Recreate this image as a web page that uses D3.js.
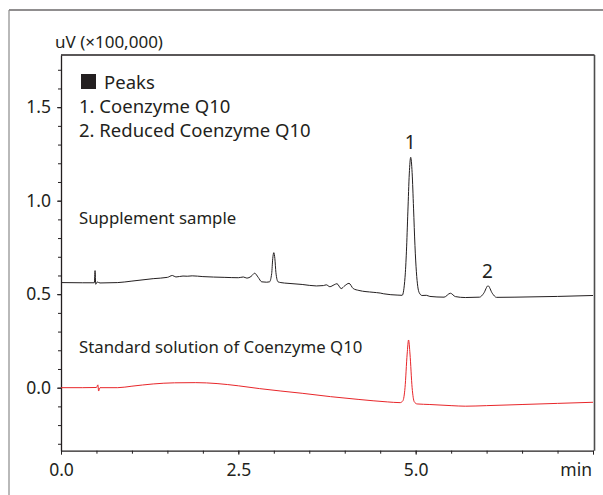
<!DOCTYPE html>
<html>
<head>
<meta charset="utf-8">
<script src="https://cdn.jsdelivr.net/npm/d3@7"></script>
<style>
  body { margin: 0; background: #fff; }
  svg text { font-family: "Noto Sans", "Open Sans", sans-serif; fill: #231f20; }
</style>
</head>
<body>
<svg id="chart" width="603" height="495"></svg>
<script>
  // 样品色谱 (时间 min, 信号 uV x100,000)
  var sampleTime = [0.00, 0.30, 0.47, 0.48, 0.49, 0.51, 0.55, 0.80, 1.00, 1.30, 1.50, 1.57, 1.62, 1.72, 1.78, 1.85,
                    2.00, 2.30, 2.50, 2.57, 2.62, 2.68, 2.73, 2.78, 2.83, 2.90, 2.94, 2.97, 2.985, 3.00, 3.015, 3.03,
                    3.06, 3.10, 3.20, 3.40, 3.60, 3.70, 3.74, 3.79, 3.85, 3.89, 3.95, 4.00, 4.06, 4.12, 4.20, 4.40,
                    4.50, 4.55, 4.75, 4.81, 4.85, 4.87, 4.89, 4.91, 4.93, 4.95, 4.97, 4.99, 5.01, 5.03, 5.05, 5.09,
                    5.15, 5.20, 5.40, 5.49, 5.56, 5.70, 5.90, 5.96, 6.02, 6.08, 6.14, 6.40, 7.00, 7.50];
  var sampleValue = [0.562, 0.561, 0.561, 0.626, 0.553, 0.565, 0.560, 0.562, 0.570, 0.583, 0.590, 0.600, 0.592, 0.597, 0.596, 0.598,
                     0.594, 0.590, 0.588, 0.592, 0.586, 0.595, 0.612, 0.590, 0.566, 0.564, 0.566, 0.610, 0.690, 0.722, 0.690, 0.615,
                     0.566, 0.562, 0.558, 0.552, 0.544, 0.546, 0.550, 0.540, 0.550, 0.556, 0.530, 0.545, 0.558, 0.530, 0.520, 0.510,
                     0.506, 0.502, 0.495, 0.494, 0.590, 0.730, 0.940, 1.143, 1.232, 1.150, 0.960, 0.760, 0.620, 0.540, 0.508, 0.493,
                     0.494, 0.488, 0.484, 0.505, 0.487, 0.482, 0.484, 0.505, 0.545, 0.505, 0.483, 0.484, 0.488, 0.493];

  // 标准溶液色谱
  var standardTime = [0.00, 0.30, 0.50, 0.52, 0.53, 0.55, 0.80, 1.00, 1.30, 1.60, 1.90, 2.20, 2.50, 2.80, 3.10, 3.40,
                      3.80, 4.20, 4.60, 4.78, 4.82, 4.85, 4.88, 4.90, 4.92, 4.95, 4.98, 5.02, 5.20, 5.50, 5.70, 6.00,
                      6.50, 7.00, 7.50];
  var standardValue = [0.000, 0.000, 0.001, 0.015, -0.018, 0.000, 0.000, 0.008, 0.020, 0.026, 0.027, 0.022, 0.010, -0.005, -0.018, -0.030,
                       -0.048, -0.063, -0.076, -0.080, -0.070, 0.000, 0.180, 0.255, 0.180, 0.000, -0.075, -0.087, -0.090, -0.096, -0.099, -0.096,
                       -0.090, -0.084, -0.078];

  // 刻度
  var xMajorTicks = [0, 2.5, 5.0, 7.5];
  var yMajorTicks = [0.0, 0.5, 1.0, 1.5];
  var legendLines = ["Peaks", "1. Coenzyme Q10", "2. Reduced Coenzyme Q10"];
  var peakLabels = [{t: 4.93, v: 1.232, label: "1"}, {t: 6.02, v: 0.545, label: "2"}];

  var svg = d3.select("#chart");
  var plotLeft = 61, plotRight = 593, plotTop = 55, plotBottom = 450.7;

  var x = d3.scaleLinear().domain([0, 7.5]).range([plotLeft, plotRight]);
  var y = d3.scaleLinear().domain([-0.337, 1.779]).range([plotBottom, plotTop]);

  // 外框
  svg.append("line").attr("x1", 9).attr("x2", 603).attr("y1", 10).attr("y2", 10)
    .attr("stroke", "#231f20").attr("stroke-width", 1.2);
  svg.append("line").attr("x1", 9).attr("x2", 9).attr("y1", 10).attr("y2", 495)
    .attr("stroke", "#8a8a8a").attr("stroke-width", 1.2);

  // 绘图区框线 (上, 右)
  svg.append("line").attr("x1", plotLeft).attr("x2", plotRight + 1.5).attr("y1", plotTop).attr("y2", plotTop)
    .attr("stroke", "#231f20").attr("stroke-width", 1.3);
  svg.append("line").attr("x1", plotRight + 1.5).attr("x2", plotRight + 1.5).attr("y1", plotTop).attr("y2", plotBottom)
    .attr("stroke", "#4d4d4d").attr("stroke-width", 1.6);

  // x轴 小刻度
  var xMinor = d3.range(0, 7.51, 0.5);
  svg.append("g").attr("transform", "translate(0," + plotBottom + ")")
    .call(d3.axisBottom(x).tickValues(xMinor).tickSize(3).tickFormat(""))
    .call(function(g){ g.select(".domain").remove(); });
  var xAxis = svg.append("g").attr("transform", "translate(0," + plotBottom + ")")
    .call(d3.axisBottom(x).tickValues(xMajorTicks).tickSize(4).tickSizeOuter(0)
      .tickFormat(function(d){ return d === 7.5 ? "" : d3.format(".1f")(d); }));
  xAxis.selectAll("text").attr("font-size", 17.5).attr("y", 25).attr("dy", 0);

  // y轴
  var yMinor = d3.range(-3, 18).map(function(d){ return d / 10; });
  svg.append("g").attr("transform", "translate(" + plotLeft + ",0)")
    .call(d3.axisLeft(y).tickValues(yMinor).tickSize(3).tickFormat(""))
    .call(function(g){ g.select(".domain").remove(); });
  var yAxis = svg.append("g").attr("transform", "translate(" + plotLeft + ",0)")
    .call(d3.axisLeft(y).tickValues(yMajorTicks).tickSize(4).tickSizeOuter(0).tickFormat(d3.format(".1f")));
  yAxis.selectAll("text").attr("font-size", 17.5).attr("x", -10);

  svg.selectAll(".domain").attr("stroke", "#231f20").attr("stroke-width", 1.3);
  svg.selectAll(".tick line").attr("stroke", "#231f20").attr("stroke-width", 1);

  // 坐标单位
  svg.append("text").attr("x", 55).attr("y", 48).attr("font-size", 17).text("uV (\u00d7100,000)");
  svg.append("text").attr("x", plotRight - 1).attr("y", 475.5).attr("font-size", 17.5)
    .attr("text-anchor", "end").text("min");

  // 色谱线
  var line = d3.line()
    .x(function(d){ return x(d[0]); })
    .y(function(d){ return y(d[1]); })
    .curve(d3.curveMonotoneX);

  svg.append("path").datum(d3.zip(sampleTime, sampleValue))
    .attr("d", line).attr("fill", "none").attr("stroke", "#231f20").attr("stroke-width", 1);
  svg.append("path").datum(d3.zip(standardTime, standardValue))
    .attr("d", line).attr("fill", "none").attr("stroke", "#e8262a").attr("stroke-width", 1);

  // 图例
  svg.append("rect").attr("x", 81).attr("y", 74).attr("width", 15).attr("height", 15).attr("fill", "#231f20");
  svg.selectAll(".legendText").data(legendLines).enter().append("text")
    .attr("class", "legendText")
    .attr("x", function(d, i){ return i === 0 ? 104 : 79; })
    .attr("y", function(d, i){ return 89 + i * 24; })
    .attr("font-size", 18.5)
    .text(function(d){ return d; });

  svg.append("text").attr("x", 79).attr("y", 224).attr("font-size", 16.8).text("Supplement sample");
  svg.append("text").attr("x", 79).attr("y", 353).attr("font-size", 16.8).text("Standard solution of Coenzyme Q10");

  // 峰标号
  svg.selectAll(".peakLabel").data(peakLabels).enter().append("text")
    .attr("class", "peakLabel")
    .attr("x", function(d){ return x(d.t) - 0.5; })
    .attr("y", function(d){ return y(d.v) - 8; })
    .attr("text-anchor", "middle")
    .attr("font-size", 19)
    .text(function(d){ return d.label; });
</script>
</body>
</html>
